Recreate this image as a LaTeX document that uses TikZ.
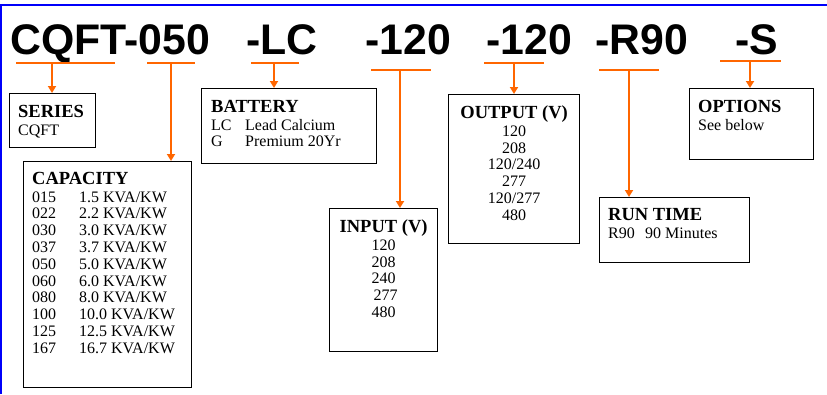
\documentclass[tikz,border=0pt]{standalone}
\usepackage{fontspec}
\setmainfont{Liberation Serif}
\newfontfamily\codefont{Liberation Sans}
\usetikzlibrary{arrows.meta,positioning}
\definecolor{leadorange}{RGB}{255,102,0}
\definecolor{frameblue}{RGB}{0,0,250}
\newcommand{\hd}[1]{{\fontsize{18.5}{20}\selectfont\bfseries #1}\\[1.2pt]}
\newcommand{\col}[2]{\makebox[#1][l]{#2}}

\begin{document}
\begin{tikzpicture}[x=1pt,y=-1pt]
%\draw[help lines,step=50] (0,0) grid (827,394);
\useasboundingbox (0,0) rectangle (827,394);
\tikzstyle{code}=[anchor=base west,inner sep=0,font=\codefont\bfseries\fontsize{42.8}{46}\selectfont]
\tikzstyle{box}=[rectangle,draw,line width=1.2pt,anchor=north west,inner sep=0]
\tikzstyle{txt}=[inner sep=0,align=left,font=\fontsize{16}{16.8}\selectfont]
\tikzstyle{bar}=[draw=leadorange,line width=2pt]
\tikzstyle{lead}=[draw=leadorange,line width=2pt,-{Triangle[length=7pt,width=8pt]}]

\draw[frameblue,line width=2.5pt] (1,394) -- (1,5) -- (827,5);

\node[code] (tcqft) at (10,54) {CQFT-050};
\node[code] (tlc) at (246,54) {-LC};
\node[code] (tin) at (365,54) {-120};
\node[code] (tout) at (486,54) {-120};
\node[code] (trun) at (595,54) {-R90};
\node[code] (topt) at (735,54) {-S};

\node[box,minimum width=86pt,minimum height=54pt] (series) at (9,93) {};
\node[box,minimum width=168pt,minimum height=226pt] (capacity) at (23,161) {};
\node[box,minimum width=175pt,minimum height=75pt] (battery) at (201,88) {};
\node[box,minimum width=108pt,minimum height=143pt] (input) at (329,208) {};
\node[box,minimum width=131pt,minimum height=149pt] (output) at (448,94) {};
\node[box,minimum width=150pt,minimum height=65pt] (runtime) at (599,197) {};
\node[box,minimum width=124pt,minimum height=71pt] (options) at (689,88) {};

\node[txt,below right=11.7pt and 9pt of series.north west] (seriest) {\hd{SERIES}CQFT};
\node[txt,below right=10.7pt and 9pt of capacity.north west] (capacityt) {\hd{CAPACITY}
\col{47pt}{015}1.5 KVA/KW\\
\col{47pt}{022}2.2 KVA/KW\\
\col{47pt}{030}3.0 KVA/KW\\
\col{47pt}{037}3.7 KVA/KW\\
\col{47pt}{050}5.0 KVA/KW\\
\col{47pt}{060}6.0 KVA/KW\\
\col{47pt}{080}8.0 KVA/KW\\
\col{47pt}{100}10.0 KVA/KW\\
\col{47pt}{125}12.5 KVA/KW\\
\col{47pt}{167}16.7 KVA/KW};
\node[txt,below right=11.7pt and 10pt of battery.north west] (batteryt) {\hd{BATTERY}
\col{34pt}{LC}Lead Calcium\\
\col{34pt}{G}Premium 20Yr};
\node[txt,align=center,below=11.2pt of input.north] (inputt) {\hd{INPUT (V)}
120\\208\\240\\\hspace*{4pt}277\\480};
\node[txt,align=center,below=11.2pt of output.north] (outputt) {\hd{OUTPUT (V)}
120\\208\\120/240\\277\\120/277\\480};
\node[txt,below right=10.7pt and 9pt of runtime.north west] (runtimet) {\hd{RUN TIME}\col{37pt}{R90}90 Minutes};
\node[txt,below right=11.7pt and 9pt of options.north west] (optionst) {\hd{OPTIONS}See below};

% orange bars under the code
\draw[bar] (16,63) -- (115,63);
\draw[bar] (147,63) -- (195,63);
\draw[bar] (251,63) -- (299,63);
\draw[bar] (371,70) -- (431,70);
\draw[bar] (484,63) -- (544,63);
\draw[bar] (599,70) -- (659,70);
\draw[bar] (720,61) -- (781,61);

\coordinate (lseries) at (52,63);
\coordinate (lcapacity) at (171,63);
\coordinate (lbattery) at (274,63);
\coordinate (linput) at (400,70);
\coordinate (loutput) at (514,63);
\coordinate (lruntime) at (629,70);
\coordinate (loptions) at (750,61);

\path (lseries) edge[lead] (lseries |- series.north);
\path (lcapacity) edge[lead] (lcapacity |- capacity.north);
\path (lbattery) edge[lead] (lbattery |- battery.north);
\path (linput) edge[lead] (linput |- input.north);
\path (loutput) edge[lead] (loutput |- output.north);
\path (lruntime) edge[lead] (lruntime |- runtime.north);
\path (loptions) edge[lead] (loptions |- options.north);
\end{tikzpicture}
\end{document}
